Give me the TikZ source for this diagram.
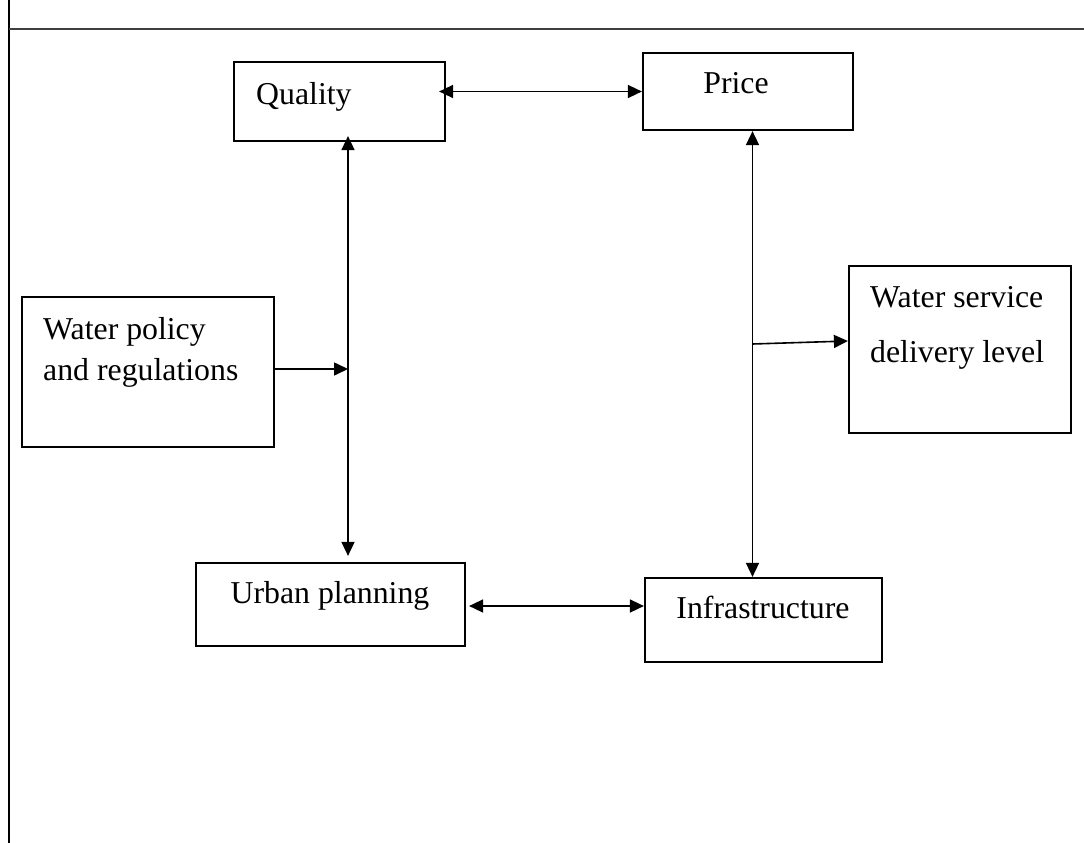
\documentclass[tikz,border=0pt]{standalone}
\usepackage{fontspec}
\setmainfont{Liberation Serif}
\usetikzlibrary{arrows.meta,calc,positioning}
\tikzset{
    block/.style = {draw, rectangle, line width=2.2pt, inner sep=0pt},
    txt/.style = {inner sep=0pt, font=\fontsize{31.8pt}{41pt}\selectfont},
    arrow/.style = {draw, line width=1.6pt},
    rule/.style = {draw, line width=2.4pt}
}

\begin{document}
\begin{tikzpicture}[x=1pt, y=-1pt, >={Triangle[length=14pt,width=13pt]}]
    \useasboundingbox (0,0) rectangle (1084,843);
    % page rules
    \coordinate (ruletop) at (9,0);
    \coordinate (rulebot) at (9,843);
    \coordinate (headleft) at (9,29);
    \coordinate (headright) at (1084,29);
    \draw[rule] (ruletop) -- (rulebot);
    \draw[rule, black!75, line width=1.8pt] (headleft) -- (headright);
    % boxes
    \node[block, minimum width=211pt, minimum height=79pt] (quality) at (339.5,101.5) {};
    \node[block, minimum width=210pt, minimum height=77pt] (price) at (748,91.5) {};
    \node[block, minimum width=252pt, minimum height=150pt] (policy) at (148,372) {};
    \node[block, minimum width=222pt, minimum height=167pt] (service) at (960,349.5) {};
    \node[block, minimum width=269pt, minimum height=83pt] (urban) at (330.5,604.5) {};
    \node[block, minimum width=237pt, minimum height=84pt] (infra) at (763.5,620) {};
    % texts
    \node[txt, anchor=base west] (qualitytxt) at (256,104) {Quality};
    \node[txt, anchor=base] (pricetxt) at (736,93) {Price};
    \node[txt, anchor=north west, align=left] (policytxt) at (43,317) {Water policy\\and regulations};
    \node[txt, anchor=north west, align=left, font=\fontsize{31.8pt}{55pt}\selectfont] (servicetxt) at (870,286) {Water service\\delivery level};
    \node[txt, anchor=base] (urbantxt) at (330,603) {Urban planning};
    \node[txt, anchor=base] (infratxt) at (763,618) {Infrastructure};
    % connectors
    \coordinate (lspine) at (348,0);
    \coordinate (rspine) at (752.5,0);
    \coordinate (pjoin) at (348,369);
    \coordinate (sjoin) at (752.5,344);
    \draw[arrow, <->] ($(quality.east |- price.west)+(-7,0)$) -- (price.west);
    \draw[arrow, <->] ($(quality.south -| lspine)+(0,-6)$) -- ($(urban.north -| lspine)+(0,-6)$);
    \draw[arrow, ->] ($(policy.east |- pjoin)+(-2,0)$) -- (pjoin);
    \draw[arrow, <->] (price.south -| rspine) -- (infra.north -| rspine);
    \draw[arrow, ->] (sjoin) -- ($(service.west)+(0,-8.5)$);
    \draw[arrow, <->] ($(urban.east)+(3,1.5)$) -- ($(urban.east -| infra.west)+(0,1.5)$);
\end{tikzpicture}
\end{document}
